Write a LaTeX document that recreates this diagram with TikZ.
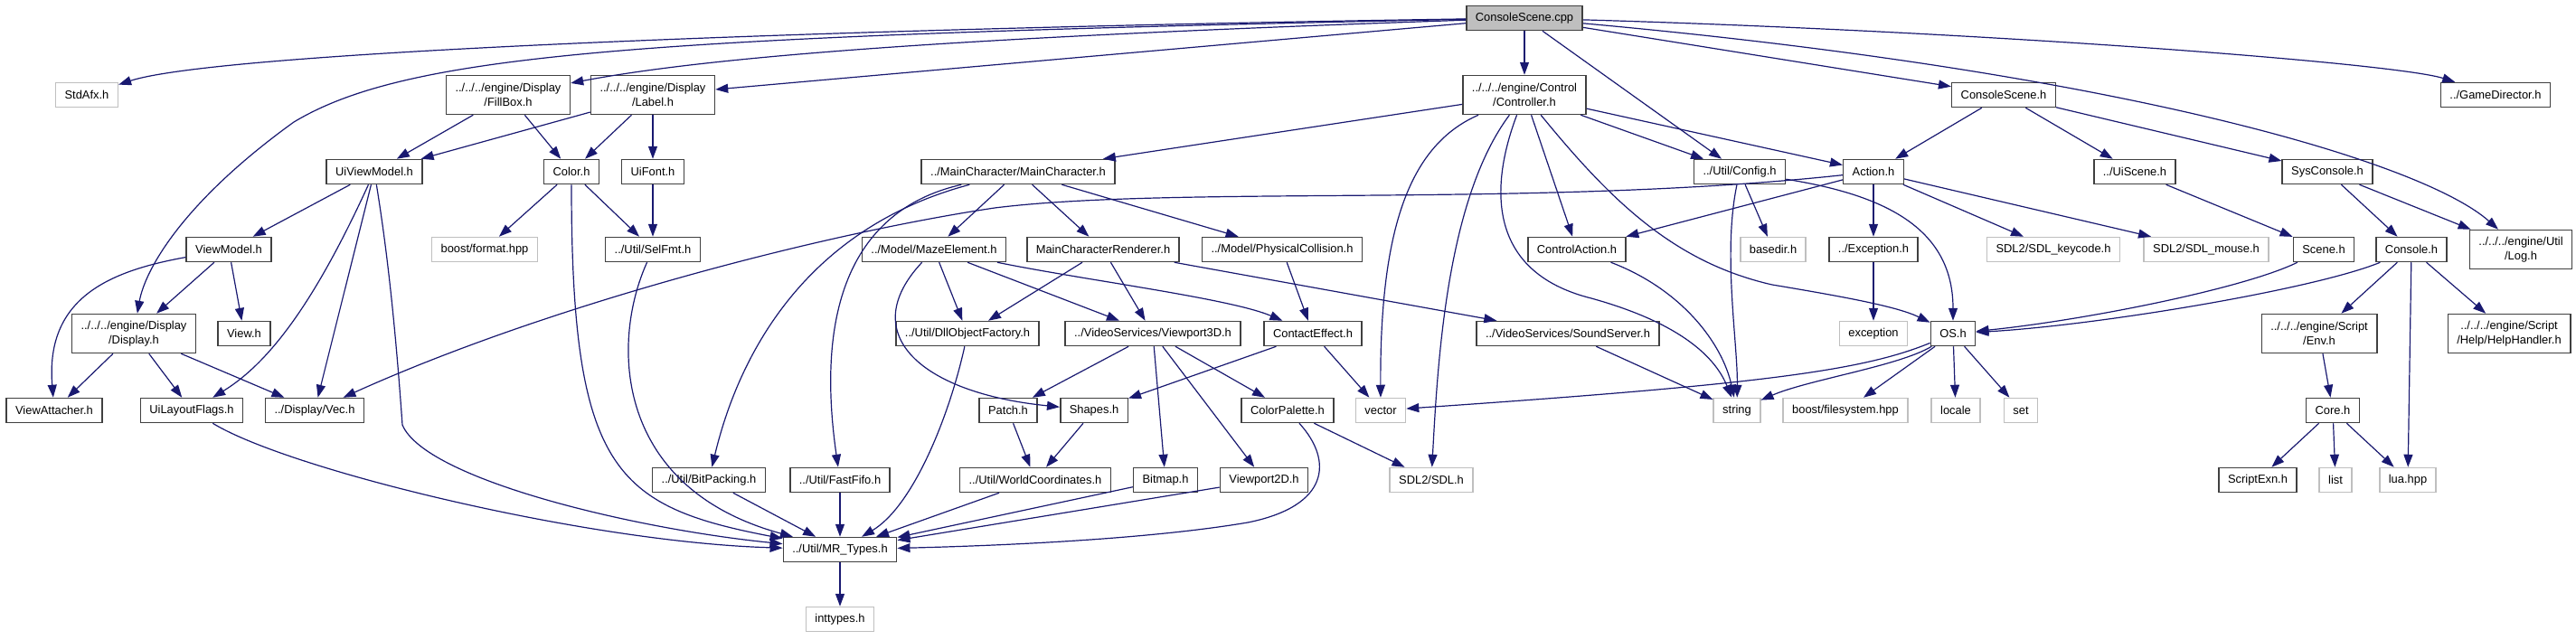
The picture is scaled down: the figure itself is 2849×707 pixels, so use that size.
\documentclass[tikz,border=0pt]{standalone}
\usepackage{fontspec}
\setmainfont{Liberation Sans}
\usepackage{tikz}
\usetikzlibrary{arrows.meta}
\definecolor{edgeblue}{RGB}{25,25,112}
\definecolor{frameg}{RGB}{64,64,64}
\definecolor{greyline}{RGB}{191,191,191}
\tikzset{
  incbox/.style={draw=frameg, line width=1.5pt, fill=white,
              inner xsep=10pt, inner ysep=3pt, minimum height=27pt,
              font=\fontsize{12.9}{16}\selectfont, align=center},
  twoline/.style={incbox, minimum height=43pt},
  sysbox/.style={incbox, draw=greyline},
  rootbox/.style={incbox, fill=greyline},
  inc/.style={-{Triangle[length=14pt,width=10pt]}, edgeblue, line width=1.2pt},
}

\begin{document}
\begin{tikzpicture}[x=1pt,y=-1pt]
    \useasboundingbox (0,0) rectangle (2849,707);
    % rank 0 and 1
    \node[rootbox] (cpp)      at (1686,20)  {ConsoleScene.cpp};
    \node[sysbox]  (stdafx)   at (96,105)   {StdAfx.h};
    \node[twoline] (fillbox)  at (562,105)  {../../../engine/Display\\/FillBox.h};
    \node[twoline] (label)    at (722,105)  {../../../engine/Display\\/Label.h};
    \node[twoline] (ctrl)     at (1686,105) {../../../engine/Control\\/Controller.h};
    \node[incbox]  (csceneh)  at (2216,105) {ConsoleScene.h};
    \node[incbox]  (gamedir)  at (2760,105) {../GameDirector.h};
    % rank 2
    \node[incbox]  (uivm)     at (414,190)  {UiViewModel.h};
    \node[incbox]  (color)    at (632,190)  {Color.h};
    \node[incbox]  (uifont)   at (722,190)  {UiFont.h};
    \node[incbox]  (mainchar) at (1126,190) {../MainCharacter/MainCharacter.h};
    \node[incbox]  (config)   at (1924,190) {../Util/Config.h};
    \node[incbox]  (action)   at (2072,190) {Action.h};
    \node[incbox]  (uiscene)  at (2361,190) {../UiScene.h};
    \node[incbox]  (syscon)   at (2574,190) {SysConsole.h};
    % rank 3
    \node[incbox]  (viewmodel) at (253,276)  {ViewModel.h};
    \node[sysbox]  (bformat)   at (536,276)  {boost/format.hpp};
    \node[incbox]  (selfmt)    at (722,276)  {../Util/SelFmt.h};
    \node[incbox]  (maze)      at (1033,276) {../Model/MazeElement.h};
    \node[incbox]  (mcrender)  at (1220,276) {MainCharacterRenderer.h};
    \node[incbox]  (physcol)   at (1418,276) {../Model/PhysicalCollision.h};
    \node[incbox]  (ctrlact)   at (1744,276) {ControlAction.h};
    \node[sysbox]  (basedir)   at (1961,276) {basedir.h};
    \node[incbox]  (exch)      at (2072,276) {../Exception.h};
    \node[sysbox]  (keycode)   at (2271,276) {SDL2/SDL\_keycode.h};
    \node[sysbox]  (mouse)     at (2440,276) {SDL2/SDL\_mouse.h};
    \node[incbox]  (scene)     at (2570,276) {Scene.h};
    \node[incbox]  (console)   at (2667,276) {Console.h};
    \node[twoline] (logh)      at (2788,276) {../../../engine/Util\\/Log.h};
    % rank 4
    \node[twoline] (display)   at (148,369)  {../../../engine/Display\\/Display.h};
    \node[incbox]  (view)      at (270,369)  {View.h};
    \node[incbox]  (dllobj)    at (1070,369) {../Util/DllObjectFactory.h};
    \node[incbox]  (vpthree)   at (1275,369) {../VideoServices/Viewport3D.h};
    \node[incbox]  (contact)   at (1452,369) {ContactEffect.h};
    \node[incbox]  (sound)     at (1734,369) {../VideoServices/SoundServer.h};
    \node[sysbox]  (exc)       at (2072,369) {exception};
    \node[incbox]  (os)        at (2160,369) {OS.h};
    \node[twoline] (env)       at (2565,369) {../../../engine/Script\\/Env.h};
    \node[twoline] (help)      at (2775,369) {../../../engine/Script\\/Help/HelpHandler.h};
    % rank 5
    \node[incbox]  (viewatt)   at (60,454)   {ViewAttacher.h};
    \node[incbox]  (uilayout)  at (212,454)  {UiLayoutFlags.h};
    \node[incbox]  (vec)       at (348,454)  {../Display/Vec.h};
    \node[incbox]  (patch)     at (1115,454) {Patch.h};
    \node[incbox]  (shapes)    at (1210,454) {Shapes.h};
    \node[incbox]  (colpal)    at (1424,454) {ColorPalette.h};
    \node[sysbox]  (vector)    at (1527,454) {vector};
    \node[sysbox]  (string)    at (1921,454) {string};
    \node[sysbox]  (bfs)       at (2041,454) {boost/filesystem.hpp};
    \node[sysbox]  (locale)    at (2163,454) {locale};
    \node[sysbox]  (set)       at (2235,454) {set};
    \node[incbox]  (core)      at (2580,454) {Core.h};
    % rank 6 to 8
    \node[incbox]  (bitpack)   at (784,531)  {../Util/BitPacking.h};
    \node[incbox]  (fastfifo)  at (929,531)  {../Util/FastFifo.h};
    \node[incbox]  (worldc)    at (1145,531) {../Util/WorldCoordinates.h};
    \node[incbox]  (bitmap)    at (1289,531) {Bitmap.h};
    \node[incbox]  (vptwo)     at (1398,531) {Viewport2D.h};
    \node[sysbox]  (sdl)       at (1583,531) {SDL2/SDL.h};
    \node[incbox]  (scriptexn) at (2497,531) {ScriptExn.h};
    \node[sysbox]  (list)      at (2583,531) {list};
    \node[sysbox]  (lua)       at (2663,531) {lua.hpp};
    \node[incbox]  (mrtypes)   at (929,608)  {../Util/MR\_Types.h};
    \node[sysbox]  (inttypes)  at (929,685)  {inttypes.h};

    % ConsoleScene.cpp
    \draw[inc] (cpp) .. controls (1000,30) and (250,55) .. (stdafx);
    \draw[inc] (cpp) .. controls (700,40) and (450,60) .. (325,135)
               .. controls (200,225) and (160,300) .. (display);
    \draw[inc] (cpp) .. controls (1100,40) and (800,60) .. (fillbox);
    \draw[inc] (cpp) -- (label);
    \draw[inc] (cpp) -- (ctrl);
    \draw[inc] (cpp) -- (config);
    \draw[inc] (cpp) -- (csceneh);
    \draw[inc] (cpp) .. controls (2200,35) and (2650,70) .. (gamedir);
    \draw[inc] (cpp) .. controls (2350,80) and (2680,180) .. (logh);
    % display headers
    \draw[inc] (fillbox) -- (uivm);
    \draw[inc] (fillbox) -- (color);
    \draw[inc] (label) -- (uivm);
    \draw[inc] (label) -- (color);
    \draw[inc] (label) -- (uifont);
    \draw[inc] (uivm) -- (viewmodel);
    \draw[inc] (uivm) .. controls (350,330) and (300,400) .. (uilayout);
    \draw[inc] (uivm) -- (vec);
    \draw[inc] (uivm) .. controls (432,300) and (440,400) .. (445,470)
               .. controls (470,530) and (700,585) .. (mrtypes);
    \draw[inc] (viewmodel) .. controls (120,300) and (50,330) .. (viewatt);
    \draw[inc] (viewmodel) -- (display);
    \draw[inc] (viewmodel) -- (view);
    \draw[inc] (display) -- (viewatt);
    \draw[inc] (display) -- (uilayout);
    \draw[inc] (display) -- (vec);
    \draw[inc] (uilayout) .. controls (320,520) and (650,600) .. (mrtypes);
    \draw[inc] (color) -- (bformat);
    \draw[inc] (color) -- (selfmt);
    \draw[inc] (color) .. controls (632,520) and (680,560) .. (mrtypes);
    \draw[inc] (uifont) -- (selfmt);
    \draw[inc] (selfmt) .. controls (675,380) and (680,540) .. (mrtypes);
    % controller
    \draw[inc] (ctrl) -- (mainchar);
    \draw[inc] (ctrl) .. controls (1560,160) and (1526,250) .. (vector);
    \draw[inc] (ctrl) .. controls (1600,220) and (1590,400) .. (sdl);
    \draw[inc] (ctrl) .. controls (1650,200) and (1640,300) .. (1760,330)
               .. controls (1850,355) and (1895,390) .. (string);
    \draw[inc] (ctrl) -- (ctrlact);
    \draw[inc] (ctrl) .. controls (1780,220) and (1850,290) .. (1960,315)
               .. controls (2050,330) and (2100,340) .. (os);
    \draw[inc] (ctrl) -- (config);
    \draw[inc] (ctrl) -- (action);
    \draw[inc] (config) -- (basedir);
    \draw[inc] (config) .. controls (1905,280) and (1922,380) .. (string);
    \draw[inc] (config) .. controls (2080,215) and (2160,250) .. (os);
    \draw[inc] (action) .. controls (1700,230) and (1300,205) .. (1100,230)
               .. controls (900,260) and (600,340) .. (vec);
    \draw[inc] (action) -- (ctrlact);
    \draw[inc] (action) -- (exch);
    \draw[inc] (action) -- (keycode);
    \draw[inc] (action) -- (mouse);
    \draw[inc] (exch) -- (exc);
    \draw[inc] (ctrlact) .. controls (1860,320) and (1905,380) .. (string);
    % console side
    \draw[inc] (csceneh) -- (action);
    \draw[inc] (csceneh) -- (uiscene);
    \draw[inc] (csceneh) -- (syscon);
    \draw[inc] (uiscene) -- (scene);
    \draw[inc] (syscon) -- (console);
    \draw[inc] (syscon) -- (logh);
    \draw[inc] (scene) .. controls (2480,320) and (2300,355) .. (os);
    \draw[inc] (console) .. controls (2560,320) and (2320,360) .. (os);
    \draw[inc] (console) -- (env);
    \draw[inc] (console) -- (lua);
    \draw[inc] (console) -- (help);
    \draw[inc] (env) -- (core);
    \draw[inc] (core) -- (scriptexn);
    \draw[inc] (core) -- (list);
    \draw[inc] (core) -- (lua);
    \draw[inc] (os) .. controls (2060,410) and (1950,425) .. (vector);
    \draw[inc] (os) .. controls (2100,405) and (2000,420) .. (string);
    \draw[inc] (os) -- (bfs);
    \draw[inc] (os) -- (locale);
    \draw[inc] (os) -- (set);
    % main character
    \draw[inc] (mainchar) .. controls (900,250) and (820,380) .. (bitpack);
    \draw[inc] (mainchar) .. controls (950,230) and (900,330) .. (fastfifo);
    \draw[inc] (mainchar) -- (maze);
    \draw[inc] (mainchar) -- (mcrender);
    \draw[inc] (mainchar) -- (physcol);
    \draw[inc] (maze) .. controls (945,370) and (1020,435) .. (shapes);
    \draw[inc] (maze) -- (dllobj);
    \draw[inc] (maze) -- (vpthree);
    \draw[inc] (maze) .. controls (1200,310) and (1360,330) .. (contact);
    \draw[inc] (mcrender) -- (dllobj);
    \draw[inc] (mcrender) -- (vpthree);
    \draw[inc] (mcrender) -- (sound);
    \draw[inc] (physcol) -- (contact);
    \draw[inc] (sound) -- (string);
    \draw[inc] (dllobj) .. controls (1050,460) and (1010,560) .. (mrtypes);
    \draw[inc] (vpthree) -- (patch);
    \draw[inc] (vpthree) -- (bitmap);
    \draw[inc] (vpthree) -- (vptwo);
    \draw[inc] (vpthree) -- (colpal);
    \draw[inc] (contact) -- (shapes);
    \draw[inc] (contact) -- (vector);
    \draw[inc] (patch) -- (worldc);
    \draw[inc] (shapes) -- (worldc);
    \draw[inc] (colpal) -- (sdl);
    \draw[inc] (colpal) .. controls (1475,510) and (1470,560) .. (1380,578)
               .. controls (1250,600) and (1050,605) .. (mrtypes);
    \draw[inc] (worldc) -- (mrtypes);
    \draw[inc] (bitmap) -- (mrtypes);
    \draw[inc] (vptwo) -- (mrtypes);
    \draw[inc] (bitpack) -- (mrtypes);
    \draw[inc] (fastfifo) -- (mrtypes);
    \draw[inc] (mrtypes) -- (inttypes);
\end{tikzpicture}
\end{document}
